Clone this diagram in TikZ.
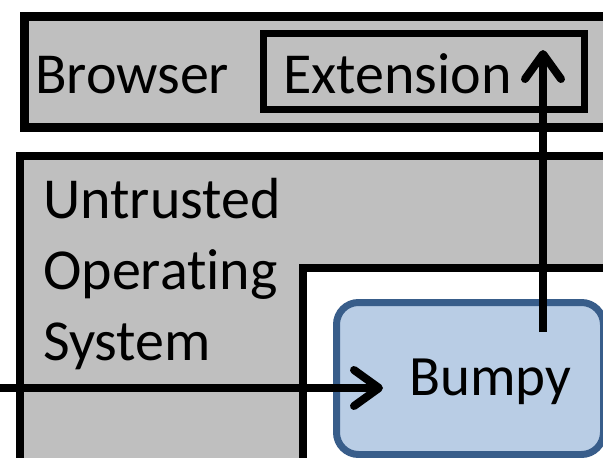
\documentclass[tikz,border=0pt]{standalone}
\usepackage{fontspec}
\setmainfont[Ligatures=NoCommon]{Carlito}
\usetikzlibrary{arrows.meta}
\definecolor{boxgray}{HTML}{BFBFBF}
\definecolor{bumpyfill}{HTML}{B9CDE5}
\definecolor{bumpyline}{HTML}{385D8A}
\begin{document}
\begin{tikzpicture}[x=1pt,y=-1pt,
  lbl/.style={anchor=base west,inner sep=0pt,font=\fontsize{58}{71}\selectfont},
  conn/.style={line width=8pt,-{Straight Barb[length=25pt,width=36pt,round]}}]
\useasboundingbox (0,0) rectangle (603,458);
\clip (0,0) rectangle (603,458);
% Browser box
\node[draw=black,line width=9pt,fill=boxgray,minimum width=600pt,minimum height=111pt,anchor=north west,inner sep=0pt] (browser) at (20,12) {};
% Extension box
\node[draw=black,line width=7pt,minimum width=321pt,minimum height=76.5pt,anchor=north west,inner sep=0pt] (ext) at (260,29.5) {};
% OS region
\filldraw[fill=boxgray,draw=black,line width=8pt,line join=miter]
  (20,156) -- (620,156) -- (620,268) -- (303,268) -- (303,480) -- (20,480) -- cycle;
% Bumpy box
\node[draw=bumpyline,fill=bumpyfill,line width=7pt,rounded corners=22pt,minimum width=267pt,minimum height=152pt,anchor=north west,inner sep=0pt] (bumpy) at (333,299) {};
% Texts
\node[lbl] (tbrowser) at (35,93) {Browser};
\node[lbl] (text) at (283,93) {Extension};
\node[lbl] (tos1) at (43,218) {Untrusted};
\node[lbl] (tos2) at (43,289) {Operating};
\node[lbl] (tos3) at (43,360) {System};
\node[lbl,font=\fontsize{57}{71}\selectfont] (tbumpy) at (409,395) {Bumpy};
% Connectors
\coordinate (inL) at (-10,388);
\coordinate (inR) at (383,388);
\coordinate (upB) at (543,332);
\coordinate (upT) at (543,50);
\draw[conn] (inL) -- (inR);
\draw[conn] (upB) -- (upT);
\end{tikzpicture}
\end{document}
